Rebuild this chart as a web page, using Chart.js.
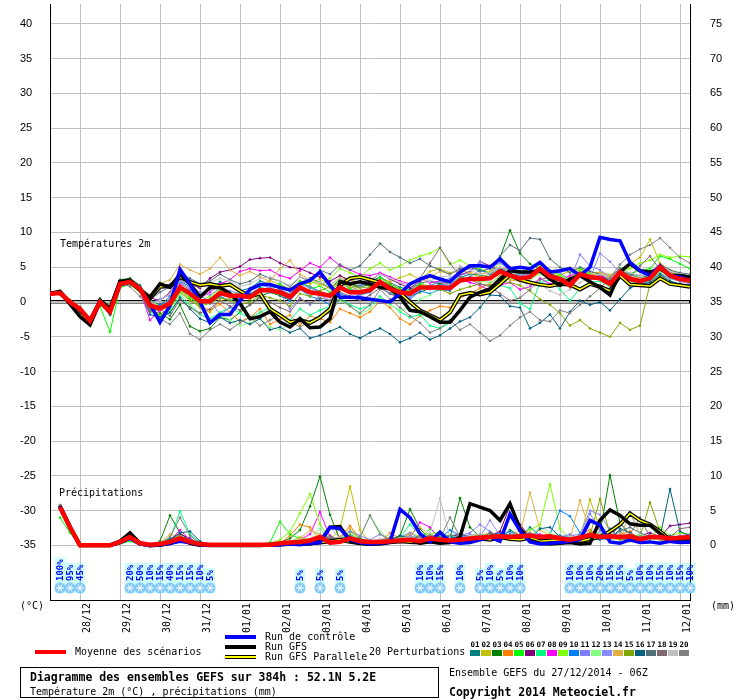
<!DOCTYPE html>
<html>
<head>
<meta charset="utf-8">
<title>Diagramme des ensembles GEFS</title>
<script src="https://cdn.jsdelivr.net/npm/chart.js@4.4.1/dist/chart.umd.min.js"></script>
<style>
  body { margin: 0; background: #fff; }
  #wrap { position: relative; width: 740px; height: 700px; overflow: hidden;
          font-family: "DejaVu Sans Mono", monospace; font-size: 10px; color: #000; }
  #wrap canvas { position: absolute; left: 0; top: 0; }
  .t { position: absolute; white-space: nowrap; line-height: 12px; }
  .b { font-weight: bold; font-size: 11.5px; }
  .bar { position: absolute; width: 31px; height: 4px; }
  .num { position: absolute; width: 11px; text-align: center; font-weight: bold; font-size: 7.5px; line-height: 8px; top: 641px; }
  .sw { position: absolute; width: 10px; height: 6px; top: 650px; }
  .snow { position: absolute; font-weight: bold; font-size: 9px; line-height: 9px; color: #0000ff;
          transform-origin: 0 0; transform: rotate(-90deg); white-space: nowrap; }
  #titlebox { position: absolute; left: 20px; top: 667px; width: 419px; height: 31px; border: 1px solid #000; box-sizing: border-box; }
</style>
</head>
<body>
<div id="wrap">
  <canvas id="gefs" width="740" height="700"></canvas>

  <div class="t" style="left:60px; top:238px;">Températures 2m</div>
  <div class="t" style="left:59px; top:487px;">Précipitations</div>
  <div class="t" style="left:20px; top:600px;">(°C)</div>
  <div class="t" style="left:711px; top:600px;">(mm)</div>

  <div class="bar" style="left:35px; top:650px; background:#ff0000;"></div>
  <div class="t" style="left:75px; top:646px;">Moyenne des scénarios</div>

  <div class="bar" style="left:225px; top:635px; background:#0000ff;"></div>
  <div class="t" style="left:265px; top:631px;">Run de contrôle</div>
  <div class="bar" style="left:225px; top:645px; background:#000;"></div>
  <div class="t" style="left:265px; top:641px;">Run GFS</div>
  <div class="bar" style="left:225px; top:655px; height:2px; background:#ffff00; border-top:1px solid #000; border-bottom:1px solid #000;"></div>
  <div class="t" style="left:265px; top:651px;">Run GFS Parallele</div>

  <div class="t" style="left:369px; top:646px;">20 Perturbations</div>
  <div id="swatches"></div>

  <div id="titlebox"></div>
  <div class="t b" style="left:30px; top:671px;">Diagramme des ensembles GEFS sur 384h : 52.1N 5.2E</div>
  <div class="t" style="left:30px; top:686px;">Température 2m (°C) , précipitations (mm)</div>
  <div class="t" style="left:449px; top:667px;">Ensemble GEFS du 27/12/2014 - 06Z</div>
  <div class="t b" style="left:449px; top:686px;">Copyright 2014 Meteociel.fr</div>
</div>

<script>
// GEFS 27/12/2014 06Z, 52.1N 5.2E - pas de 6h, 0 a 384h

var dayLabels = ["28/12", "29/12", "30/12", "31/12", "01/01", "02/01", "03/01", "04/01",
                 "05/01", "06/01", "07/01", "08/01", "09/01", "10/01", "11/01", "12/01"];
var tempTicks = [-35, -30, -25, -20, -15, -10, -5, 0, 5, 10, 15, 20, 25, 30, 35, 40];
var precTicks = [0, 5, 10, 15, 20, 25, 30, 35, 40, 45, 50, 55, 60, 65, 70, 75];

// Température 2m (°C), pas 0 a 64
var tMean = [1.2,1.3,0.0,-1.0,-2.7,0.0,-1.4,2.6,2.9,1.9, -0.5,-0.9,-0.2,2.1,1.2,0.1,0.1,1.3,0.9,0.9,
             0.7,1.7,1.7,1.4,0.7,2.1,1.4,1.2,0.9,2.1, 1.4,1.4,1.7,2.9,1.9,1.4,1.2,2.1,2.1,2.1,
             2.0,3.1,3.3,3.3,3.4,4.4,3.8,3.4,3.6,4.8, 3.7,3.3,2.4,4.0,3.6,3.4,2.6,4.3,3.3,3.0, 3.4,5.0,3.8,3.3,3.1];
var tControl = [1.2,1.3,0.0,-1.1,-2.6,0.1,-1.5,2.5,2.9,2.0, -0.3,-2.9,-0.5,4.7,2.6,0.0,-3.0,-1.8,-1.8,0.2,
                1.8,2.5,2.5,2.1,1.7,2.6,3.1,4.3,2.4,0.7, 0.7,0.6,0.4,0.2,0.0,1.2,2.6,3.3,3.8,3.3,
                2.9,4.3,5.2,5.2,5.0,6.2,4.8,5.0,4.8,5.7, 4.3,4.5,4.8,3.8,5.0,9.3,9.0,8.8,5.7,4.5, 3.8,5.2,3.8,3.6,3.1];
var tGfs = [1.2,1.4,-0.3,-2.1,-3.3,0.0,-1.1,2.9,2.9,1.7, 0.7,2.6,2.1,4.0,2.6,0.7,2.1,2.1,1.2,-0.2,
            -2.4,-2.1,-1.4,-2.9,-3.6,-2.4,-3.7,-3.6,-2.4,2.9, 2.6,2.9,2.6,2.1,1.9,0.7,-1.2,-1.4,-2.1,-2.9,
            -2.9,-1.2,0.7,1.4,1.9,3.3,4.5,4.3,4.3,4.5, 3.3,2.4,3.3,3.8,2.9,2.1,1.0,4.3,5.5,4.5, 4.3,4.8,3.8,3.8,3.6];
var tGfsPara = [1.2,1.5,-0.1,-1.8,-3.0,0.2,-1.0,2.9,3.1,1.8, 0.5,2.2,2.3,3.6,2.9,2.4,2.6,2.3,2.5,1.6,
                0.8,1.2,-1.0,-1.9,-2.9,-2.6,-3.0,-2.2,-1.0,2.4, 3.4,3.6,3.2,2.8,2.0,1.3,0.0,-1.2,-1.9,-2.6,
                -1.5,1.0,1.3,1.1,1.4,2.6,3.9,3.2,2.8,2.5, 2.3,2.6,2.5,1.8,2.6,2.2,1.6,3.8,2.5,2.4, 2.3,3.4,2.6,2.4,2.2];

var tP01 = [1.3,1.5,0.2,-0.8,-2.5,0.3,-1.0,3.0,3.2,2.2, 0.3,-0.5,0.8,3.0,2.2,1.0,1.8,2.9,2.4,1.6,
            2.0,3.0,2.6,1.8,1.1,2.8,2.2,1.5,1.0,2.7, 2.0,2.4,2.9,3.6,2.8,2.1,1.8,2.7,3.0,2.6,
            2.3,3.5,4.0,3.9,3.6,4.8,4.1,3.8,4.2,5.0, 4.0,3.6,3.0,4.4,3.9,3.7,3.1,4.6,3.9,3.5, 3.8,5.2,4.3,3.9,3.6];
var tP02 = [1.1,1.2,-0.2,-1.2,-2.9,-0.3,-1.8,2.2,2.6,1.5, -1.0,-1.8,-0.9,1.6,0.4,-0.8,-1.5,0.2,0.5,1.1,
            1.6,2.4,3.1,2.5,1.9,3.0,2.6,3.3,2.4,3.5, 3.2,2.8,2.6,3.4,2.9,3.5,4.0,3.2,4.4,4.8,
            4.2,4.6,4.1,3.6,4.0,4.5,3.9,3.5,3.8,4.4, 3.6,3.9,4.4,4.9,4.1,4.3,3.9,4.6,5.5,6.4, 9.0,5.6,4.6,4.0,3.7];
var tP03 = [1.4,1.6,0.3,-0.7,-2.4,0.5,-0.6,3.2,3.4,2.4, -0.2,-1.6,-2.5,-0.4,-3.5,-4.2,-3.8,-2.2,-2.6,-1.5,
            -0.4,0.8,1.4,0.9,0.2,2.4,3.4,2.8,2.0,3.2, 2.6,2.2,2.5,3.1,2.4,1.6,0.8,1.4,2.0,2.6,
            3.1,4.0,5.2,4.6,4.2,6.4,10.3,7.0,5.5,4.6, 4.2,3.4,3.0,4.1,3.8,3.2,2.4,4.0,3.6,3.2, 3.0,4.6,3.8,3.4,3.3];
var tP04 = [1.2,1.3,0.1,-0.9,-2.6,-0.2,-1.6,2.4,2.8,1.8, -0.9,-1.2,-0.6,2.4,1.0,-0.6,-1.2,-0.3,-1.5,-2.8,
            -2.2,-1.0,-3.2,-2.5,-1.9,-3.3,-2.0,-2.4,-2.9,-1.0, -1.6,-2.2,-1.4,0.2,-0.8,-2.4,-3.2,-2.0,-1.2,-0.6,
            -0.8,0.6,1.2,2.0,2.6,3.8,3.2,3.0,3.4,4.2, 3.4,2.8,3.6,4.3,3.2,3.6,2.8,4.4,3.6,3.0, 3.2,4.6,3.5,3.0,2.8];
var tP05 = [1.0,1.1,-0.3,-1.4,-3.1,-0.6,-4.3,2.1,2.5,1.4, -0.6,-2.2,-1.0,1.8,0.6,-0.4,0.5,1.6,0.8,1.5,
            0.9,2.1,1.8,2.6,1.5,3.0,1.9,2.3,1.4,2.9, 1.9,1.2,2.2,3.5,2.5,1.9,1.4,2.6,2.2,3.1,
            2.5,3.6,3.2,3.0,3.6,4.9,4.4,4.0,4.6,5.3, 4.5,3.9,3.1,4.8,4.0,3.8,3.2,4.9,4.1,4.5, 4.8,6.6,6.2,5.5,4.8];
var tP06 = [1.2,1.4,0.1,-1.0,-2.6,0.2,-1.2,2.8,3.0,2.0, 0.6,0.2,1.4,3.5,2.6,2.0,3.4,4.3,4.6,5.1,
            6.1,6.3,6.4,5.6,5.0,4.8,4.2,3.6,3.0,3.8, 3.1,2.6,3.0,4.1,3.3,2.6,2.0,3.0,3.6,3.2,
            3.0,3.9,4.4,5.8,5.2,4.6,5.0,4.2,4.0,4.8, 3.9,3.5,2.8,3.9,3.4,3.8,3.0,4.2,3.6,3.3, 3.6,4.6,3.9,3.5,3.3];
var tP07 = [1.3,1.4,0.0,-1.1,-2.8,-0.1,-1.9,2.4,2.7,1.6, -1.4,-2.0,-1.6,0.8,-0.6,-1.8,-2.4,-1.5,-0.8,-1.6,
            -2.3,-1.5,-0.8,-1.8,-2.6,-1.0,-1.9,-1.2,-0.6,0.6, -0.4,-1.0,-0.5,0.8,-0.3,-1.4,-2.2,-1.8,-3.4,-3.8,
            -3.0,-1.4,0.6,1.2,1.8,2.4,2.0,-0.2,-1.0,2.8, 3.2,1.8,0.2,2.0,2.8,3.0,2.2,3.6,3.0,2.6, 3.0,4.2,3.4,3.0,2.9];
var tP08 = [1.2,1.3,0.0,-1.0,-2.8,-0.1,-1.5,2.6,2.9,1.7, -2.6,-1.2,-0.2,2.6,1.8,0.6,1.4,2.6,3.2,4.4,
            4.8,4.5,4.6,3.8,3.4,4.5,5.6,5.0,6.4,5.2, 4.6,4.0,3.8,4.2,3.6,3.0,2.6,3.4,2.8,3.0,
            2.4,3.2,2.8,2.4,1.6,2.4,2.8,1.8,2.2,3.4, 2.6,3.2,3.8,4.2,3.6,3.8,3.4,4.4,3.6,3.2, 3.4,4.8,4.0,3.6,3.4];
var tP09 = [1.3,1.5,0.2,-0.9,-2.5,0.2,-1.1,2.9,3.1,2.1, 0.2,-0.6,0.4,3.0,1.4,0.2,0.8,1.8,1.2,0.8,
            0.4,1.4,2.0,1.4,0.6,2.2,3.0,2.4,3.4,4.8, 4.2,3.6,4.8,5.6,4.6,5.2,6.0,6.6,7.0,7.8,
            5.4,6.0,5.2,4.8,4.2,5.6,4.8,4.4,4.6,5.4, 4.4,3.8,3.2,4.6,4.0,3.6,2.8,4.4,4.8,5.6, 6.0,6.8,6.4,6.6,6.5];
var tP10 = [1.1,1.2,-0.1,-1.1,-2.7,0.0,-1.3,2.5,2.8,1.8, -0.8,-0.4,0.2,2.2,1.6,0.4,-0.2,0.8,0.2,0.6,
            1.2,2.0,1.4,1.2,0.2,1.8,0.8,0.4,-0.4,1.2, 0.6,1.0,1.4,2.6,1.2,0.6,0.4,1.6,1.2,1.8,
            1.6,3.2,3.6,4.6,4.0,5.0,4.2,3.2,3.6,4.6, 3.6,3.4,2.6,4.2,3.8,3.4,2.6,4.0,3.2,2.8, 3.2,4.6,3.6,3.2,3.0];
var tP11 = [1.2,1.3,0.0,-0.9,-2.6,0.1,-1.3,2.7,3.0,2.0, -0.4,-1.0,0.6,2.8,2.0,0.8,0.2,-1.8,-0.8,0.4,
            0.8,1.6,2.2,1.2,-1.0,0.6,-0.4,1.0,0.2,2.4, 1.6,2.2,2.8,3.0,2.2,1.2,0.6,1.8,2.4,2.9,
            3.4,4.4,4.9,5.4,5.0,4.6,4.0,3.6,4.4,5.6, 4.6,4.2,3.2,6.8,5.2,4.6,3.6,4.8,3.4,2.6, 2.8,4.0,3.4,3.0,2.6];
var tP12 = [1.2,1.4,0.1,-1.0,-2.7,0.0,-1.6,2.6,2.8,1.8, -1.2,-2.6,-1.4,1.2,-0.4,-1.6,-2.8,-1.8,-2.6,-3.4,
            -3.0,-2.4,-3.6,-4.0,-3.2,-2.2,-3.0,-2.0,-1.4,0.2, -0.6,-1.8,-1.0,0.6,-0.4,-1.2,-0.8,0.4,1.0,2.2,
            2.6,3.0,3.4,3.0,2.8,3.6,3.4,3.0,3.2,4.0, 3.4,3.0,2.0,3.6,3.4,3.2,2.2,3.8,3.0,3.2, 3.6,4.4,4.0,3.6,3.4];
var tP13 = [1.3,1.4,0.1,-1.0,-2.7,0.1,-1.2,2.7,3.0,2.0, -0.2,0.4,1.0,3.2,2.4,1.4,1.0,2.0,1.6,1.2,
            1.8,2.6,2.0,1.6,1.2,2.6,2.0,1.4,1.0,2.0, 1.4,1.0,1.6,2.8,1.8,1.2,0.8,2.0,1.8,2.4,
            2.4,3.8,4.2,5.8,5.0,5.6,4.6,3.8,4.0,4.4, 3.4,3.0,2.4,4.0,3.4,7.0,5.8,4.2,3.6,3.2, 3.4,4.8,3.8,3.4,3.2];
var tP14 = [1.2,1.3,0.0,-1.0,-2.6,0.1,-1.3,2.8,3.1,2.1, 1.0,2.6,3.2,5.4,4.6,4.0,4.8,6.4,4.6,3.8,
            4.4,3.6,3.0,4.8,6.0,4.0,3.2,2.6,2.0,2.6, 2.2,1.6,2.0,2.8,2.2,1.6,1.2,2.2,3.6,4.4,
            4.0,4.6,4.2,4.0,4.4,5.0,4.6,4.2,4.4,4.6, 4.2,4.6,5.0,4.2,3.8,4.2,3.6,4.4,3.8,3.4, 3.6,4.8,4.2,3.8,3.6];
var tP15 = [1.1,1.2,-0.2,-1.2,-2.8,-0.2,-1.6,2.4,2.7,1.6, -1.2,-1.8,-0.8,1.4,0.2,-0.6,-0.2,0.6,0.2,-0.4,
            0.0,1.0,0.6,0.2,-0.6,1.2,0.8,1.6,2.2,2.8, 2.4,2.0,2.2,3.0,2.6,1.8,1.6,2.4,2.2,1.8,
            1.2,1.8,2.2,2.6,2.4,3.0,2.8,2.4,1.6,0.4, -0.4,-1.6,-3.4,-2.6,-3.8,-4.4,-5.0,-3.0,-4.0,-3.4, 2.6,3.8,3.0,2.4,2.2];
var tP16 = [1.2,1.3,0.0,-1.1,-2.9,-0.2,-1.8,2.3,2.6,1.6, -1.8,-2.2,-1.5,0.6,-1.0,-2.4,-3.0,-2.2,-3.0,-2.6,
            -3.2,-2.4,-4.0,-3.6,-4.4,-3.8,-5.2,-4.8,-4.2,-3.6, -4.6,-5.2,-4.4,-3.8,-4.6,-5.8,-5.2,-4.4,-5.4,-4.8,
            -3.8,-2.8,-2.2,-0.8,1.0,0.9,-0.6,-0.8,-3.8,-3.0, -1.8,-3.8,-1.4,0.2,-0.4,0.0,-1.2,0.4,2.0,2.6, 2.8,4.0,3.0,2.6,2.4];
var tP17 = [1.3,1.5,0.2,-0.8,-2.5,0.3,-0.9,3.1,3.3,2.3, 0.4,1.4,2.2,4.0,3.4,2.6,3.0,4.0,3.2,2.6,
            3.0,4.0,3.4,3.0,2.2,3.6,3.0,4.6,4.0,5.4, 4.6,5.2,6.8,8.4,7.2,6.4,5.6,6.2,5.2,4.6,
            4.0,4.8,5.0,4.4,4.8,6.6,8.2,7.4,9.2,9.0, 6.2,5.0,4.2,5.0,4.4,4.0,3.4,4.8,4.0,3.8, 4.0,5.4,4.6,4.2,4.0];
var tP18 = [1.1,1.2,-0.1,-1.2,-2.9,-0.3,-1.7,2.3,2.6,1.5, -1.4,-1.0,-2.0,0.4,-0.8,-1.6,-1.0,0.2,-0.6,-1.2,
            -0.4,0.6,0.0,-0.8,-1.4,0.4,-0.2,0.6,0.2,1.4, 0.8,0.2,1.0,2.0,1.2,0.6,1.4,3.4,5.6,7.8,
            5.6,3.6,3.2,2.6,2.2,1.2,0.2,0.6,1.8,3.2, 3.6,3.0,2.2,3.6,3.2,3.4,2.8,4.0,3.6,5.2, 6.6,4.6,3.8,3.4,3.2];
var tP19 = [1.2,1.3,0.0,-1.0,-2.7,0.0,-1.4,2.7,2.9,1.9, -0.4,0.2,1.2,3.6,2.8,2.2,2.8,3.4,3.0,2.2,
            2.6,3.4,3.6,3.0,2.4,3.6,3.2,2.8,2.4,3.4, 3.0,2.6,3.2,4.0,3.4,2.8,2.4,3.2,3.0,3.6,
            3.8,5.2,4.6,4.0,4.2,5.0,4.4,3.4,2.0,2.6, 1.6,1.0,1.8,2.8,3.6,4.0,3.4,4.6,4.2,3.8, 4.0,5.0,4.4,4.0,3.8];
var tP20 = [1.3,1.4,0.1,-0.9,-2.5,0.2,-1.0,2.8,2.2,0.8, -1.0,-2.4,-3.2,-1.6,-4.6,-5.4,-4.0,-3.2,-4.0,-3.0,
            -2.2,-3.4,-2.6,-1.8,-2.8,-3.6,-2.8,-2.0,-1.6,0.4, -0.6,-1.6,-0.4,1.8,0.4,-0.8,-2.0,-3.0,-4.4,-3.8,
            -2.6,-4.0,-3.2,-4.4,-5.6,-4.8,-3.4,-2.2,-1.4,-2.6, -2.8,-1.2,-1.6,-0.4,0.8,2.0,3.4,5.4,6.8,7.6, 8.2,9.2,7.8,6.4,5.6];

// Précipitations (mm / 6h), pas 1 a 64
var pMean = [5.5,2.6,0,0,0,0,0.5,1.2,0.3,0.1, 0.2,0.5,1.0,0.5,0.2,0.1,0.1,0.1,0.1,0.1,
             0.1,0.1,0.3,0.4,0.5,0.7,1.2,0.4,0.5,1.0, 0.6,0.5,0.5,0.6,0.7,0.8,0.6,1.0,0.8,0.7,
             0.8,1.0,1.1,1.2,1.3,1.2,1.3,1.4,1.2,1.3, 1.0,0.8,1.1,1.5,1.2,1.3,1.2,1.3,0.9,1.2, 1.2,1.0,1.1,1.2];
var pControl = [5.6,2.5,0,0,0,0,0.4,1.0,0.2,0, 0.1,0.3,0.6,0.4,0.1,0,0,0,0,0.1,
                0,0,0.1,0.2,0.1,0.3,0.4,2.6,2.4,0.8, 0.4,0.2,0.3,0.5,5.2,4.0,1.7,0.5,1.9,0.5,
                0.3,0.4,0.8,1.2,0.6,4.5,2.1,0.5,0.2,0.3, 0.4,0.6,0.8,3.6,2.9,0.5,0.3,0.8,0.4,0.5, 0.3,0.6,0.4,0.5];
var pGfs = [5.7,2.7,0,0,0,0,0.6,1.8,0.3,0, 0,0.4,0.9,0.3,0,0,0,0,0,0,
            0,0.1,0.1,0.2,0.3,0.2,0.5,2.6,2.7,0.6, 0.3,0.2,0.2,0.4,0.6,0.8,0.3,0.5,0.3,0.4,
            1.2,6.0,5.5,5.0,3.6,6.0,2.4,0.7,0.3,0.2, 0.3,0.4,0.2,0.3,3.6,5.1,4.3,3.1,2.9,2.9, 1.7,0.6,0.5,0.5];
var pGfsPara = [5.5,2.6,0,0,0,0,0.5,1.5,0.3,0, 0.1,0.3,0.8,0.4,0.1,0,0,0,0,0,
                0,0.1,0.2,0.2,0.2,0.3,0.4,0.6,0.8,0.5, 0.3,0.2,0.4,0.5,0.6,0.5,0.4,0.6,0.8,0.6,
                0.5,0.8,1.0,0.8,1.2,0.9,0.8,1.1,0.6,0.7, 0.8,0.5,0.6,0.9,1.2,2.0,3.0,4.6,3.6,3.0, 2.0,0.8,0.6,0.6];

var pP01 = [5.4,2.5,0,0,0,0,0.4,1.1,0.2,0, 0.2,0.6,1.3,0.8,0.2,0,0.1,0,0.1,0,
            0,0.1,0.2,0.3,0.6,0.4,0.8,0.3,0.5,1.2, 0.5,0.3,0.4,0.8,0.5,0.6,0.4,1.4,0.8,0.5,
            0.6,1.2,0.8,1.5,1.8,0.9,1.0,2.6,1.4,1.0, 0.8,0.5,1.2,1.8,0.9,2.4,1.0,0.6,0.8,1.4, 1.0,0.8,1.2,1.0];
var pP02 = [5.6,2.7,0,0,0,0,0.5,1.3,0.3,0, 0.1,0.4,0.9,0.5,0.2,0.1,0,0,0,0,
            0,0,0.1,0.5,1.2,0.8,0.6,0.8,2.4,8.5, 2.2,0.4,0.3,0.5,0.8,0.4,0.6,0.9,1.2,0.8,
            0.6,0.9,1.6,1.2,0.8,1.0,1.6,1.4,0.8,1.2, 0.6,0.8,1.0,6.6,2.4,1.2,0.8,4.8,1.6,1.0, 0.8,0.6,1.4,1.0];
var pP03 = [5.8,2.8,0,0,0,0,0.6,1.4,0.4,0, 0.6,4.3,1.8,0.6,0.2,0,0,0,0,0,
            0,0.2,0.4,1.0,2.2,5.6,9.9,4.4,0.8,0.6, 0.4,0.3,0.6,0.8,1.4,5.2,2.4,0.8,1.6,1.0,
            6.8,2.6,1.2,0.8,1.0,2.2,1.4,0.9,0.7,1.0, 0.6,0.8,1.0,1.6,1.8,10.1,3.2,1.6,0.8,1.1, 0.9,1.2,0.8,0.9];
var pP04 = [5.4,2.4,0,0,0,0,0.3,0.9,0.2,0, 0.1,0.5,1.0,0.6,0.1,0,0,0,0,0,
            0,0.1,0.3,1.4,3.0,2.6,0.8,0.6,1.2,2.8, 1.0,0.6,0.4,1.8,1.0,0.6,0.8,1.6,1.1,0.6,
            0.8,0.9,1.2,1.4,0.8,1.0,2.2,1.8,1.2,0.8, 1.0,0.6,1.6,2.2,1.4,1.0,1.6,2.0,0.9,1.0, 0.8,0.6,1.0,1.2];
var pP05 = [4.0,1.8,0,0,0,0,0.2,0.6,0.1,0, 0.1,0.3,0.6,0.4,0.1,0,0,0,0,0.2,
            0.1,0.4,3.4,1.6,1.0,0.6,1.2,0.5,0.8,2.0, 1.0,0.6,0.8,0.6,1.0,1.4,0.8,2.4,1.2,0.8,
            0.6,1.0,1.4,0.8,1.2,1.0,0.9,1.2,0.6,1.0, 0.8,1.2,0.9,1.1,1.4,1.6,1.0,1.2,0.8,1.0, 1.4,0.8,1.0,1.2];
var pP06 = [5.6,2.6,0,0,0,0,0.4,1.0,0.2,0, 0.2,0.8,1.6,1.0,0.2,0,0,0,0,0,
            0,0,0.1,0.2,0.4,0.6,0.8,1.4,0.6,0.8, 0.4,0.2,0.4,0.6,0.8,1.0,0.6,0.8,0.9,1.2,
            1.6,1.2,1.0,1.4,2.0,5.7,3.0,1.2,0.8,0.6, 0.5,0.8,1.2,1.4,1.0,1.6,1.2,0.8,1.4,1.8, 1.2,2.8,3.0,3.2];
var pP07 = [5.5,2.5,0,0,0,0,0.5,1.2,0.3,0, 0.3,1.0,4.9,1.6,0.4,0,0,0,0,0,
            0,0.1,0.2,0.4,0.6,0.8,1.2,0.9,0.6,0.8, 0.5,0.4,0.6,0.8,1.2,3.0,1.4,0.8,1.0,1.4,
            1.0,0.8,1.2,0.9,1.4,1.2,1.0,1.6,1.2,0.9, 1.4,1.0,0.6,1.2,1.8,1.4,0.9,1.2,1.6,1.0, 0.9,1.1,0.8,1.0];
var pP08 = [5.7,2.6,0,0,0,0,0.6,1.3,0.3,0, 0.2,0.7,2.2,0.8,0.2,0,0,0,0,0,
            0,0,0.1,0.4,0.8,1.6,4.8,1.2,0.6,0.8, 0.6,0.4,0.5,0.9,0.6,1.2,3.3,2.6,0.8,0.6,
            0.8,1.0,0.8,1.2,1.4,1.0,0.8,1.2,1.6,1.0, 0.9,0.7,1.0,1.2,1.6,1.0,1.4,0.8,1.0,1.3, 1.0,0.8,0.9,1.0];
var pP09 = [5.3,2.4,0,0,0,0,0.4,1.0,0.2,0, 0.1,0.4,0.8,0.5,0.1,0,0,0,0,0,
            0,0.3,0.8,2.0,4.6,7.4,3.0,1.0,0.6,1.4, 0.8,0.6,0.4,0.8,1.0,1.8,1.2,1.6,2.0,1.2,
            0.9,1.4,1.6,1.2,0.8,1.0,1.4,2.2,3.0,8.8, 2.4,1.0,1.4,1.2,1.6,1.0,0.8,1.2,1.4,1.0, 2.6,1.4,1.8,1.6];
var pP10 = [5.6,2.6,0,0,0,0,0.5,1.1,0.2,0, 0.1,0.5,1.1,0.6,0.2,0,0,0,0,0,
            0,0,0.2,0.3,0.5,0.4,0.7,0.6,0.8,1.4, 0.6,0.5,0.6,1.0,0.8,1.2,0.9,1.4,1.0,2.2,
            1.4,1.0,1.6,1.2,1.4,2.0,1.2,0.9,1.1,1.6, 5.0,4.2,1.8,1.0,0.8,1.2,1.4,0.8,1.0,1.2, 0.9,1.1,1.0,0.8];
var pP11 = [5.5,2.5,0,0,0,0,0.4,1.0,0.2,0, 0.1,0.4,0.9,0.5,0.1,0,0,0,0,0,
            0,0,0.1,0.2,0.3,0.5,0.6,0.8,1.2,2.0, 1.4,0.8,1.6,0.9,1.2,1.8,1.0,0.8,1.2,1.0,
            1.4,1.8,3.0,2.0,1.2,1.0,1.4,1.2,0.9,1.0, 1.2,1.6,1.0,4.6,2.0,1.4,1.2,1.6,1.0,1.4, 1.2,1.0,1.4,1.6];
var pP12 = [5.2,2.3,0,0,0,0,0.3,0.8,0.1,0, 0.1,0.3,0.7,0.4,0.1,0,0,0,0,0,
            0,0.1,0.3,0.6,1.0,0.8,2.4,1.0,0.7,0.9, 1.1,4.3,2.0,0.8,1.0,0.9,1.2,1.6,1.0,0.8,
            0.9,1.2,1.0,1.4,1.2,1.0,0.8,1.4,2.6,1.8, 1.0,0.9,1.2,0.8,1.0,1.2,1.4,1.0,1.2,0.9, 1.1,1.0,0.9,1.2];
var pP13 = [5.6,2.7,0,0,0,0,0.5,1.2,0.3,0, 0.2,0.6,1.2,0.7,0.2,0,0,0,0,0,
            0,0,0.2,0.3,0.4,0.6,0.9,1.2,0.8,1.0, 0.7,0.5,0.6,0.9,1.0,1.4,0.8,1.2,1.6,1.2,
            1.0,1.6,1.2,3.6,1.4,1.0,1.2,1.8,1.2,0.9, 1.0,1.4,1.6,5.0,4.4,2.2,1.2,1.0,1.3,1.1, 1.0,1.2,1.1,1.0];
var pP14 = [5.4,2.5,0,0,0,0,0.5,1.6,0.4,0, 0.4,1.6,1.2,0.6,0.2,0,0,0,0,0,
            0,0,0.1,0.4,1.0,2.2,1.6,0.8,1.2,2.4, 1.0,0.6,0.8,1.2,1.0,1.6,2.6,1.4,1.0,0.8,
            1.2,1.0,1.4,1.8,1.2,1.0,1.6,7.6,2.2,1.4, 1.0,0.8,6.5,2.0,1.2,1.0,0.8,1.4,1.2,1.0, 0.9,1.2,1.0,1.1];
var pP15 = [5.5,2.6,0,0,0,0,0.6,1.3,0.3,0, 0.2,0.8,1.4,0.6,0.2,0,0,0,0,0,
            0,0,0.2,0.3,0.6,0.8,0.7,1.0,0.9,1.6, 0.8,0.5,0.6,1.0,1.2,0.8,1.0,1.4,1.2,0.9,
            1.0,1.2,1.6,1.4,1.0,0.8,1.2,1.0,0.8,0.7, 0.6,0.9,1.2,1.4,6.7,1.6,0.8,1.0,1.2,6.2, 2.0,1.2,1.0,0.9];
var pP16 = [5.6,2.6,0,0,0,0,0.5,1.2,0.3,0, 0.3,0.9,1.8,2.0,0.6,0,0,0,0,0,
            0,0,0.1,0.2,0.4,0.5,0.8,0.7,1.0,1.2, 0.9,0.6,0.5,0.8,1.4,1.0,0.8,0.6,1.0,1.2,
            1.0,0.8,1.2,1.0,1.4,1.6,1.2,1.0,2.4,2.6, 1.2,1.0,1.4,1.2,1.0,0.8,2.4,1.8,0.9,1.0, 1.2,8.1,2.0,1.4];
var pP17 = [5.5,2.5,0,0,0,0,0.4,1.1,0.2,0, 0.2,0.6,1.3,0.8,0.2,0,0,0,0,0,
            0,0,0.1,0.3,0.5,0.6,0.9,1.0,0.8,1.0, 0.6,0.5,0.8,1.0,0.9,1.2,1.0,0.8,1.2,1.4,
            1.6,1.2,1.0,1.8,1.4,1.2,1.6,1.4,1.0,1.2, 1.4,1.0,1.2,1.6,1.4,1.2,2.0,2.6,1.8,1.2, 1.0,1.4,1.2,1.0];
var pP18 = [5.6,2.6,0,0,0,0,0.5,1.2,0.3,0, 0.2,0.6,1.1,0.6,0.2,0,0,0,0,0,
            0,0,0.2,0.4,0.6,0.8,1.0,0.8,0.6,0.9, 0.5,0.6,0.8,0.7,0.9,1.0,1.4,0.8,1.0,0.9,
            1.2,1.0,0.8,1.2,1.0,1.4,1.0,0.8,1.2,1.0, 1.1,0.9,1.0,1.4,1.2,1.0,3.2,1.6,4.0,1.2, 1.0,1.2,2.4,2.6];
var pP19 = [5.7,2.7,0,0,0,0,0.5,1.3,0.3,0, 0.2,0.6,1.2,0.7,0.2,0,0,0,0,0,
            0,0,0.2,0.3,0.5,0.7,1.4,2.6,1.0,0.8, 0.7,0.6,0.9,0.8,1.0,1.2,1.0,1.8,6.8,1.0,
            0.9,1.4,1.6,1.2,1.0,1.4,1.2,1.0,1.2,1.4, 1.0,1.2,1.4,1.6,1.8,1.4,1.2,4.6,1.6,1.2, 1.0,0.9,1.2,1.0];
var pP20 = [5.6,2.6,0,0,0,0,0.6,1.4,0.4,0, 0.3,1.2,4.0,1.4,0.3,0,0,0,0,0,
            0,0,0.1,0.2,0.4,0.6,1.0,1.2,0.8,1.0, 1.2,4.3,1.6,0.8,0.9,1.0,1.2,1.4,1.0,4.0,
            1.2,0.9,1.4,1.0,1.2,1.6,1.4,1.0,1.2,1.0, 1.2,1.0,1.4,1.2,1.0,1.2,1.4,1.6,1.2,1.0, 1.1,1.2,1.0,1.2];

// probabilite de neige (%) par pas de 6h
var snowSteps = [1,2,3, 8,9,10,11,12,13,14,15,16, 25,27,29, 37,38,39, 41, 43,44,45,46,47,
                 52,53,54,55,56,57,58,59,60,61,62,63,64];
var snowPct = [100,95,45, 20,50,10,15,40,15,15,10,5, 5,5,5, 10,10,15, 10, 5,10,5,10,10,
               10,10,10,20,15,15,5,10,10,15,10,15,10];

var tPert = [tP01,tP02,tP03,tP04,tP05,tP06,tP07,tP08,tP09,tP10,tP11,tP12,tP13,tP14,tP15,tP16,tP17,tP18,tP19,tP20];
var pPert = [pP01,pP02,pP03,pP04,pP05,pP06,pP07,pP08,pP09,pP10,pP11,pP12,pP13,pP14,pP15,pP16,pP17,pP18,pP19,pP20];
var pertColors = ["#008080","#c0c000","#008000","#ff8000","#00ff00","#800080","#00ff80","#ff00ff","#80ff00","#0080ff",
                  "#8080ff","#80ff80","#8888ff","#e0b040","#80a800","#006080","#507078","#806870","#c0c0c0","#808080"];

// pastilles de la legende des perturbations
var sw = document.getElementById("swatches");
pertColors.forEach(function (c, i) {
  var n = document.createElement("div");
  n.className = "num";
  n.style.left = (469.5 + 11 * i) + "px";
  n.textContent = (i < 9 ? "0" : "") + (i + 1);
  sw.appendChild(n);
  var b = document.createElement("div");
  b.className = "sw";
  b.style.left = (470 + 11 * i) + "px";
  b.style.background = c;
  sw.appendChild(b);
});

function pts(vals, start) {
  return vals.map(function (v, i) { return { x: (i + start) * 6, y: v }; });
}

var datasets = [];
function addLine(vals, start, axis, color, width, order, marks) {
  datasets.push({
    data: pts(vals, start),
    yAxisID: axis,
    borderColor: color,
    backgroundColor: color,
    borderWidth: width,
    order: order,
    pointRadius: marks ? 1.6 : 0,
    pointStyle: "rectRot",
    pointBorderWidth: 0,
    fill: false
  });
}

function addRun(tVals, pVals, color, width, order, marks) {
  addLine(tVals, 0, "y", color, width, order, marks);
  addLine(pVals, 1, "y1", color, width, order, marks);
}

for (var i = 0; i < 20; i++) {
  addRun(tPert[i], pPert[i], pertColors[i], 1, 30 - i, true);
}
addRun(tGfsPara, pGfsPara, "#000000", 4, 5, false);
addRun(tGfsPara, pGfsPara, "#ffff00", 1.5, 4, false);
addRun(tGfs, pGfs, "#000000", 3.5, 3, false);
addRun(tControl, pControl, "#0000ff", 3.5, 2, false);
addRun(tMean, pMean, "#ff0000", 4.5, 1, false);

var tickFont = { family: "Liberation Sans", size: 11 };
var half = 300 / 7;   // 7 px par degre, 0 au milieu

// fond cyan de la ligne neige, milieu blanc de la ligne 0, flocons
var extras = {
  id: "extras",
  beforeDraw: function (chart) {
    var ctx = chart.ctx, xs = chart.scales.x;
    ctx.save();
    ctx.fillStyle = "#ccffff";
    snowSteps.forEach(function (s, k) {
      var x = xs.getPixelForValue(s * 6);
      var len = String(snowPct[k]).length + 1;
      var top = 581 - len * 5.4 - 2;
      ctx.fillRect(x - 5, top, 10, 593 - top);
    });
    ctx.restore();
  },
  beforeDatasetsDraw: function (chart) {
    var ctx = chart.ctx, a = chart.chartArea;
    var y = chart.scales.y.getPixelForValue(0);
    ctx.save();
    ctx.strokeStyle = "#ffffff";
    ctx.lineWidth = 1.3;
    ctx.beginPath();
    ctx.moveTo(a.left + 1, y);
    ctx.lineTo(a.right - 1, y);
    ctx.stroke();
    ctx.restore();
  },
  afterDatasetsDraw: function (chart) {
    var ctx = chart.ctx, xs = chart.scales.x;
    ctx.save();
    snowSteps.forEach(function (s) {
      var x = xs.getPixelForValue(s * 6), y = 588;
      ctx.fillStyle = "#80c8f8";
      ctx.beginPath();
      ctx.arc(x, y, 5.5, 0, Math.PI * 2);
      ctx.fill();
      ctx.strokeStyle = "#ffffff";
      ctx.lineWidth = 1;
      for (var k = 0; k < 3; k++) {
        var ang = k * Math.PI / 3;
        ctx.beginPath();
        ctx.moveTo(x - 4 * Math.cos(ang), y - 4 * Math.sin(ang));
        ctx.lineTo(x + 4 * Math.cos(ang), y + 4 * Math.sin(ang));
        ctx.stroke();
      }
    });
    ctx.restore();
  }
};

var chart = new Chart(document.getElementById("gefs"), {
  type: "line",
  data: { datasets: datasets },
  plugins: [extras],
  options: {
    responsive: false,
    animation: false,
    devicePixelRatio: 1,
    layout: { padding: { left: 20, right: 0, top: 0, bottom: 0 } },
    plugins: { legend: { display: false }, tooltip: { enabled: false } },
    elements: { line: { tension: 0 } },
    scales: {
      x: {
        type: "linear", min: 0, max: 384,
        afterBuildTicks: function (s) {
          s.ticks = dayLabels.map(function (d, k) { return { value: 18 + 24 * k }; });
        },
        afterFit: function (s) { s.height = 100; s.paddingLeft = 0; s.paddingRight = 0; },
        grid: { color: "#c0c0c0", drawTicks: false },
        border: { color: "#000000" },
        ticks: {
          autoSkip: false, minRotation: 90, maxRotation: 90, labelOffset: 7, padding: 3,
          color: "#000000", font: { family: "DejaVu Sans Mono", size: 10 },
          callback: function (v, k) { return dayLabels[k]; }
        }
      },
      y: {
        position: "left", min: -half, max: half,
        afterBuildTicks: function (s) { s.ticks = tempTicks.map(function (v) { return { value: v }; }); },
        afterFit: function (s) { s.width = 30; s.paddingTop = 0; s.paddingBottom = 0; },
        grid: {
          drawTicks: false,
          color: function (c) { return c.tick && c.tick.value === 0 ? "#000000" : "#c0c0c0"; },
          lineWidth: function (c) { return c.tick && c.tick.value === 0 ? 3.5 : 1; }
        },
        border: { color: "#000000" },
        ticks: { crossAlign: "far", color: "#000000", font: tickFont }
      },
      y1: {
        position: "right", min: 35 - half, max: 35 + half,
        afterBuildTicks: function (s) { s.ticks = precTicks.map(function (v) { return { value: v }; }); },
        afterFit: function (s) { s.width = 50; s.paddingTop = 0; s.paddingBottom = 0; },
        grid: { drawOnChartArea: false, drawTicks: false },
        border: { color: "#000000" },
        ticks: { padding: 20, color: "#000000", font: tickFont }
      }
    }
  }
});

// pourcentages de neige au-dessus des flocons
var wrap = document.getElementById("wrap");
snowSteps.forEach(function (s, k) {
  var x = chart.scales.x.getPixelForValue(s * 6);
  var el = document.createElement("div");
  el.className = "snow";
  el.textContent = snowPct[k] + "%";
  el.style.left = (x - 4.5) + "px";
  el.style.top = "581px";
  wrap.appendChild(el);
});
</script>
</body>
</html>
